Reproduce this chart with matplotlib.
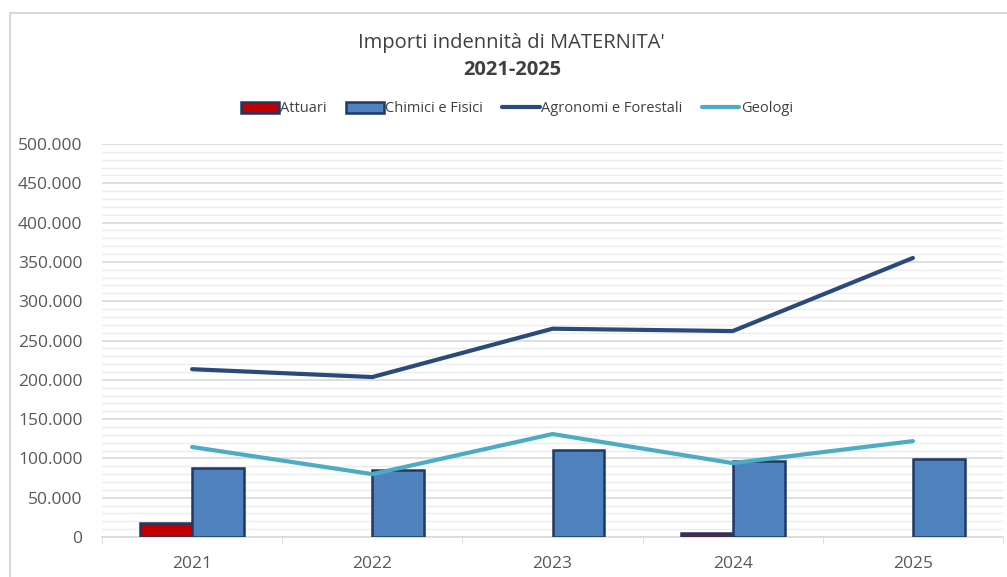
import matplotlib
matplotlib.use('Agg')
import matplotlib.pyplot as plt
from matplotlib.ticker import MultipleLocator, FuncFormatter
from matplotlib.patches import Rectangle
import numpy as np

plt.rcParams['font.family'] = ['Open Sans', 'DejaVu Sans']

# Dati
anni = ['2021', '2022', '2023', '2024', '2025']
attuari = [17800, 0, 0, 5000, 0]
chimici_fisici = [88000, 85000, 110500, 96500, 99000]
agronomi_forestali = [213500, 203500, 265000, 262000, 355000]
geologi = [114500, 80000, 131000, 94000, 122000]

fig = plt.figure(figsize=(10.07, 5.77), dpi=100)
ax = fig.add_axes([102 / 1007, 1 - 537 / 577, 901 / 1007, 393 / 577])

# cornice del grafico
fig.patches.append(Rectangle((10 / 1007, -0.1), 1.2, 1 - 13 / 577 + 0.1,
                             transform=fig.transFigure, fill=False,
                             edgecolor='#d9d9d9', linewidth=1.5))

x = np.arange(len(anni))
w = 0.288
b1 = ax.bar(x - w / 2, attuari, width=w, color='#c00000', edgecolor='#1f3864',
            linewidth=[1.8 if v else 0 for v in attuari], label='Attuari', zorder=3)
b2 = ax.bar(x + w / 2, chimici_fisici, width=w, color='#4f81bd', edgecolor='#1f3864',
            linewidth=1.8, label='Chimici e Fisici', zorder=3)
l1, = ax.plot(x, agronomi_forestali, color='#2a4a7b', linewidth=3,
              label='Agronomi e Forestali', zorder=4, solid_capstyle='round')
l2, = ax.plot(x, geologi, color='#4bacc6', linewidth=3,
              label='Geologi', zorder=4, solid_capstyle='round')

ax.set_xlim(-0.5, len(anni) - 0.5)
ax.set_ylim(0, 500000)
ax.yaxis.set_major_locator(MultipleLocator(50000))
ax.yaxis.set_minor_locator(MultipleLocator(10000))
ax.yaxis.set_major_formatter(FuncFormatter(lambda v, p: f'{int(v):,}'.replace(',', '.')))
ax.grid(axis='y', which='major', color='#d9d9d9', linewidth=1.2, zorder=0)
ax.grid(axis='y', which='minor', color='#ececec', linewidth=1, zorder=0)
ax.set_axisbelow(True)

ax.set_xticks(x)
ax.set_xticklabels(anni)
ax.set_xticks(np.arange(len(anni) + 1) - 0.5, minor=True)
ax.tick_params(axis='x', which='major', length=0, pad=14, labelsize=12.5, labelcolor='#595959')
ax.tick_params(axis='x', which='minor', length=5, color='#d9d9d9', direction='out')
ax.tick_params(axis='y', which='both', length=0, pad=14, labelsize=12.5, labelcolor='#595959')

for s in ['top', 'right', 'left']:
    ax.spines[s].set_visible(False)
ax.spines['bottom'].set_color('#d9d9d9')
ax.spines['bottom'].set_linewidth(1.2)

fig.text(511 / 1007, 1 - 43 / 577, "Importi indennità di MATERNITA'", ha='center',
         va='center', fontsize=14.5, color='#404040')
fig.text(512 / 1007, 1 - 70 / 577, '2021-2025', ha='center', va='center',
         fontsize=14.5, fontweight='bold', color='#404040')

fig.legend(handles=[b1, b2, l1, l2], loc='center',
           bbox_to_anchor=(517 / 1007, 1 - 109 / 577), ncol=4,
           frameon=False, fontsize=10.5, handlelength=2.6, handleheight=0.8,
           handletextpad=0.1, columnspacing=1.3, labelcolor='#404040')

fig.savefig('out.png', dpi=100)
